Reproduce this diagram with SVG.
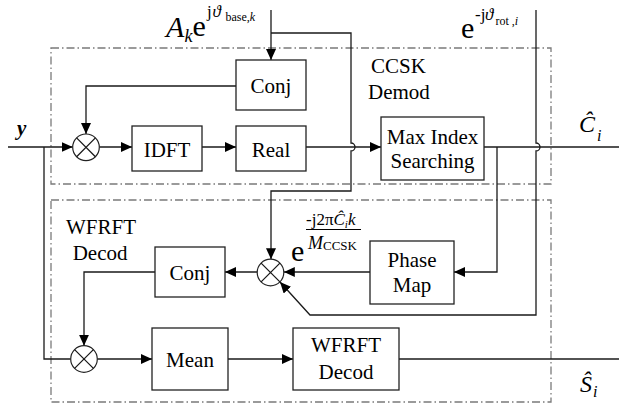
<svg xmlns="http://www.w3.org/2000/svg" width="619" height="404" viewBox="0 0 619 404" font-family="'Liberation Serif', 'DejaVu Serif', serif">
<defs>
<marker id="arr" markerUnits="userSpaceOnUse" markerWidth="11" markerHeight="10" refX="11" refY="5" orient="auto">
<path d="M0,0 L11,5 L0,10 z" fill="#000"/>
</marker>
<style>
text{font-family:'Liberation Serif','DejaVu Serif',serif;fill:#000}
.bx{fill:#fff;stroke:#222;stroke-width:1.3}
.bt{font-size:21px;text-anchor:middle}
.ln{fill:none;stroke:#1a1a1a;stroke-width:1.3}
.ar{marker-end:url(#arr)}
.dd{fill:none;stroke:#7a7a7a;stroke-width:1.3;stroke-dasharray:8 3 1.5 3}
.mul{fill:#fff;stroke:#222;stroke-width:1.2}
</style>
</defs>
<rect width="619" height="404" fill="#fff"/>

<g id="frames">
<rect class="dd" x="51" y="48" width="500" height="136"/>
<rect class="dd" x="51" y="200" width="500" height="202"/>
</g>

<g id="connectors">
<path class="ln ar" d="M8,147 H72.7"/>
<path class="ln" d="M44,147 V359 H70.7"/>
<path class="ln ar" d="M236,86 H86 V134"/>
<path class="ln ar" d="M99.3,147 H132"/>
<path class="ln ar" d="M202,147 H236"/>
<path class="ln ar" d="M306,147 H381"/>
<path class="ln ar" d="M271,10 V60"/>
<path class="ln ar" d="M271,33 H351 V143 a4,4 0 0 1 0,8 V191 H271 V259.2"/>
<path class="ln" d="M484,147 H619"/>
<path class="ln ar" d="M497,147 V272 H454"/>
<path class="ln ar" d="M536,10 V143 a4,4 0 0 1 0,8 V315 H310 L280,282"/>
<path class="ln ar" d="M370,272 H283.8"/>
<path class="ln ar" d="M257.2,272 H225"/>
<path class="ln ar" d="M155,272 H84 V345.7"/>
<path class="ln ar" d="M97.3,359 H152"/>
<path class="ln ar" d="M228,359 H293"/>
<path class="ln" d="M399,359 H619"/>
</g>

<g id="mult1">
<circle class="mul" cx="86" cy="147.3" r="13.3"/>
<path class="ln" stroke-width="1" d="M76.6,137.9 L95.4,156.7 M95.4,137.9 L76.6,156.7"/>
</g>
<g id="mult2">
<circle class="mul" cx="270.5" cy="272.5" r="13.3"/>
<path class="ln" stroke-width="1" d="M261.1,263.1 L279.9,281.9 M279.9,263.1 L261.1,281.9"/>
</g>
<g id="mult3">
<circle class="mul" cx="84" cy="359" r="13.3"/>
<path class="ln" stroke-width="1" d="M74.6,349.6 L93.4,368.4 M93.4,349.6 L74.6,368.4"/>
</g>

<g id="conj1">
<rect class="bx" x="236" y="60" width="70" height="50"/>
<text class="bt" x="271" y="93" font-family="'Liberation Serif', serif">Conj</text>
</g>
<g id="idft">
<rect class="bx" x="132" y="126" width="70" height="45"/>
<text class="bt" x="167" y="156.5" font-family="'Liberation Serif', serif">IDFT</text>
</g>
<g id="real">
<rect class="bx" x="236" y="126" width="70" height="45"/>
<text class="bt" x="271" y="156.5" font-family="'Liberation Serif', serif">Real</text>
</g>
<g id="maxindex">
<rect class="bx" x="381" y="117" width="103" height="63"/>
<text class="bt" x="432.5" y="144" font-family="'Liberation Serif', serif">Max Index</text>
<text class="bt" x="432.5" y="168" font-family="'Liberation Serif', serif">Searching</text>
</g>
<g id="phasemap">
<rect class="bx" x="370" y="241" width="84" height="63"/>
<text class="bt" x="412" y="266.5" font-family="'Liberation Serif', serif">Phase</text>
<text class="bt" x="412" y="292" font-family="'Liberation Serif', serif">Map</text>
</g>
<g id="conj2">
<rect class="bx" x="155" y="247" width="70" height="50"/>
<text class="bt" x="190" y="280" font-family="'Liberation Serif', serif">Conj</text>
</g>
<g id="mean">
<rect class="bx" x="152" y="328" width="76" height="62"/>
<text class="bt" x="190" y="366.5" font-family="'Liberation Serif', serif">Mean</text>
</g>
<g id="wfrftbox">
<rect class="bx" x="293" y="328" width="106" height="62"/>
<text class="bt" x="346" y="352" font-family="'Liberation Serif', serif">WFRFT</text>
<text class="bt" x="346" y="379" font-family="'Liberation Serif', serif">Decod</text>
</g>

<g id="labels" font-family="'Liberation Serif', serif">
<text x="371" y="72.5" font-size="21">CCSK</text>
<text x="368" y="99" font-size="21">Demod</text>
<text x="66" y="234" font-size="21">WFRFT</text>
<text x="72.7" y="260" font-size="21">Decod</text>
<text x="17" y="135" font-size="21" font-weight="bold" font-style="italic">y</text>
<text font-size="30"><tspan x="166" y="36.5" font-style="italic">A</tspan><tspan x="184.5" y="42" font-size="18" font-style="italic">k</tspan><tspan x="192.5" y="36">e</tspan><tspan x="207" y="17" font-size="17">j</tspan><tspan x="212.5" y="17" font-size="17" font-style="italic">ϑ</tspan><tspan x="225.5" y="21" font-size="12">base,</tspan><tspan font-size="12" font-style="italic">k</tspan></text>
<text font-size="30"><tspan x="461" y="38">e</tspan><tspan x="475" y="20" font-size="17">-j</tspan><tspan x="485" y="20" font-size="17" font-style="italic">ϑ</tspan><tspan x="495.5" y="25" font-size="12">rot</tspan><tspan font-size="12"> ,</tspan><tspan font-size="12" font-style="italic">i</tspan></text>
<text font-size="24"><tspan x="579" y="132" font-style="italic">Ĉ</tspan><tspan x="597" y="141" font-size="16" font-style="italic">i</tspan></text>
<text font-size="24"><tspan x="580" y="391.5" font-style="italic">Ŝ</tspan><tspan x="593" y="397" font-size="16" font-style="italic">i</tspan></text>
<text font-size="30" x="291" y="261">e</text>
<text font-size="17" x="306" y="225">-j2π<tspan font-style="italic">Ĉ</tspan><tspan font-size="11" dy="3" font-style="italic">i</tspan><tspan dy="-3" font-style="italic">k</tspan></text>
<path d="M306,229.5 H361" stroke="#000" stroke-width="1"/>
<text font-size="18" x="308" y="249"><tspan font-style="italic">M</tspan><tspan font-size="13" dy="1">CCSK</tspan></text>
</g>
</svg>
